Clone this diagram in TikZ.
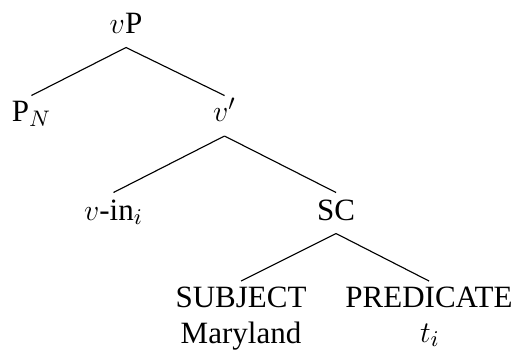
\documentclass[tikz,border=0pt]{standalone}
\usepackage{fontspec}
\setmainfont{Liberation Serif}
\begin{document}
\begin{tikzpicture}[x=0.4pt,y=-0.4pt,
  lbl/.style={anchor=base,inner sep=0pt,font=\fontsize{12.4}{14.5}\selectfont},
  branch/.style={draw=black,line width=0.45pt}]
\useasboundingbox (0,0) rectangle (517,353);
\node[lbl] (vP) at (126,33) {$v$P};
\node[lbl] (PN) at (31.5,121) {P$_N$};
\node[lbl] (vbar) at (224.5,121) {$v'$};
\node[lbl] (vin) at (113.5,220) {$v$-in$_i$};
\node[lbl] (SC) at (336,220) {SC};
\node[lbl] (subj) at (241,307) {SUBJECT};
\node[lbl] (mary) at (241,343) {Maryland};
\node[lbl] (pred) at (429,307) {PREDICATE};
\node[lbl] (trace) at (430,342) {$t_i$};
\draw[branch] ([yshift=-5.8pt]vP.base) -- ([yshift=10.2pt]PN.base);
\draw[branch] ([yshift=-5.8pt]vP.base) -- ([yshift=10.2pt]vbar.base);
\draw[branch] ([yshift=-6pt]vbar.base) -- ([yshift=11pt]vin.base);
\draw[branch] ([yshift=-6pt]vbar.base) -- ([yshift=11pt]SC.base);
\draw[branch] ([yshift=-5.4pt]SC.base) -- ([yshift=10.4pt]subj.base);
\draw[branch] ([yshift=-5.4pt]SC.base) -- ([yshift=10.4pt]pred.base);
\end{tikzpicture}
\end{document}
